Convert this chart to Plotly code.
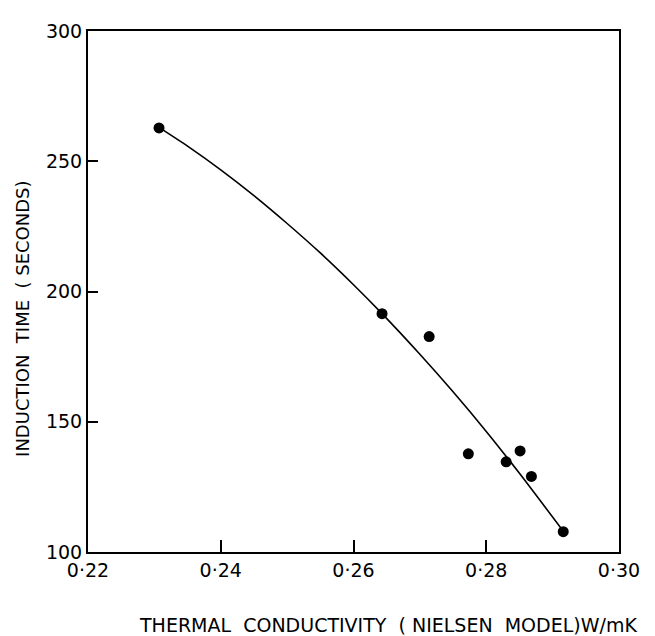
import plotly.graph_objects as go

# Measured data points
conductivity = [0.2307, 0.2643, 0.2714, 0.2773, 0.2830, 0.2851, 0.2868, 0.2916]
induction_time = [262.8, 191.5, 182.7, 137.7, 134.6, 138.8, 129.0, 107.8]

# Fitted curve, points
curve_x = [0.2307, 0.2350, 0.2400, 0.2450, 0.2500, 0.2550, 0.2600, 0.2643,
           0.2700, 0.2750, 0.2800, 0.2850, 0.2916]
curve_y = [263.0, 255.8, 246.7, 236.8, 226.1, 214.8, 202.6, 191.5,
           175.9, 161.5, 146.3, 130.2, 108.0]

x_ticks = [0.22, 0.24, 0.26, 0.28, 0.30]
x_tick_labels = ["0·22", "0·24", "0·26", "0·28", "0·30"]
y_ticks = [100, 150, 200, 250, 300]
y_tick_labels = ["100", "150", "200", "250", "300"]

FONT = "DejaVu Sans"

fig = go.Figure()
fig.add_trace(go.Scatter(x=curve_x, y=curve_y, mode="lines",
                         line=dict(color="black", width=1.6, shape="spline", smoothing=0.6),
                         hoverinfo="skip", showlegend=False))
fig.add_trace(go.Scatter(x=conductivity, y=induction_time, mode="markers",
                         marker=dict(color="black", size=11),
                         showlegend=False))

# page body has an 8px margin, so the figure is offset by 8px
fig.update_layout(
    width=647, height=628,
    margin=dict(l=80, r=36, t=12, b=84),
    paper_bgcolor="white", plot_bgcolor="white",
    font=dict(family=FONT, color="black", size=16),
    xaxis=dict(range=[0.22, 0.30], tickvals=x_ticks, ticktext=x_tick_labels,
               showline=True, linecolor="black", linewidth=2, mirror=True,
               ticks="inside", ticklen=12, tickwidth=1.5, tickcolor="black",
               showgrid=False, zeroline=False,
               tickfont=dict(family=FONT, size=19)),
    yaxis=dict(range=[100, 300], tickvals=y_ticks, ticktext=y_tick_labels,
               showline=True, linecolor="black", linewidth=2, mirror=True,
               ticks="inside", ticklen=10, tickwidth=1.5, tickcolor="black",
               showgrid=False, zeroline=False,
               tickfont=dict(family=FONT, size=19)),
)

fig.add_annotation(text="THERMAL  CONDUCTIVITY  ( NIELSEN  MODEL)W/mK",
                   xref="paper", yref="paper", x=(388 - 88) / 531, y=-(627 - 552) / 532,
                   xanchor="center", yanchor="middle", showarrow=False,
                   font=dict(family=FONT, size=19))
fig.add_annotation(text="INDUCTION  TIME  ( SECONDS)", textangle=-90,
                   xref="paper", yref="paper", x=-(88 - 23) / 531, y=(552 - 314) / 532,
                   xanchor="center", yanchor="middle", showarrow=False,
                   font=dict(family=FONT, size=18))

fig.write_html("out.html")
